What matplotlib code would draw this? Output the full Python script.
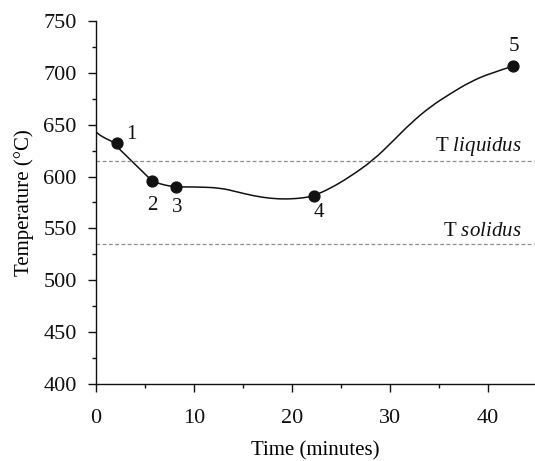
import matplotlib
matplotlib.use('Agg')

import matplotlib.pyplot as plt
from matplotlib.path import Path
from matplotlib.patches import PathPatch
from matplotlib.ticker import MultipleLocator

plt.rcParams['font.family'] = 'Liberation Serif'
plt.rcParams['mathtext.fontset'] = 'custom'
plt.rcParams['mathtext.rm'] = 'Liberation Serif'
plt.rcParams['mathtext.it'] = 'Liberation Serif:italic'

# ===============================
# DATA
# ===============================
# cooling / reheating curve, sampled along the drawn line
curve_time = [0.0, 0.4, 1.0, 2.1, 5.7, 6.8, 8.2, 10.3, 12.7, 14.4, 16.1,
              17.8, 19.5, 21.2, 22.2, 23.9, 25.9, 28.3, 30.4, 32.1, 34.1,
              36.2, 38.2, 40.2, 42.6]
curve_temp = [643, 640, 636.5, 632, 596, 592, 590, 590, 589.1, 585.2,
              581.4, 578.9, 578.2, 579.4, 581.4, 588.5, 599.7, 615.8, 635.1,
              651.3, 667.3, 680.2, 691.4, 699.5, 706.6]

# numbered points
pt_time = [2.1, 5.7, 8.2, 22.2, 42.6]
pt_temp = [632, 596, 590, 581.4, 706.6]
pt_labels = ['1', '2', '3', '4', '5']
label_time = [3.6, 5.7, 8.3, 22.7, 42.6]
label_temp = [641, 572, 570, 565.5, 725]

t_liquidus = 615
t_solidus = 535


# smooth line through the sampled curve (quadratic B-spline path)
def smooth_path(xs, ys):
    pts = list(zip(xs, ys))
    verts = [pts[0]]
    codes = [Path.MOVETO]
    verts.append(pts[1])
    codes.append(Path.LINETO)
    for i in range(1, len(pts) - 2):
        mid = ((pts[i][0] + pts[i + 1][0]) / 2, (pts[i][1] + pts[i + 1][1]) / 2)
        if i == 3:
            # straight run from point 1 to point 2
            verts += [pts[i + 1]]
            codes += [Path.LINETO]
            continue
        verts += [pts[i], mid]
        codes += [Path.CURVE3, Path.CURVE3]
    verts += [pts[-2], pts[-1]]
    codes += [Path.CURVE3, Path.CURVE3]
    return Path(verts, codes)


# ===============================
# PLOT
# ===============================
fig = plt.figure(figsize=(5.35, 4.61), dpi=100)
ax = fig.add_axes([96 / 535, 1 - 384 / 461, (535 - 96) / 535, (384 - 21) / 461])

ax.axhline(t_liquidus, color='#8c8c8c', linestyle=(0, (3, 2)), linewidth=0.9)
ax.axhline(t_solidus, color='#8c8c8c', linestyle=(0, (3, 2)), linewidth=0.9)

ax.add_patch(PathPatch(smooth_path(curve_time, curve_temp), facecolor='none',
                       edgecolor='#111111', linewidth=1.1))
ax.plot(pt_time, pt_temp, 'o', color='#111111', markersize=7.8)

for lx, ly, s in zip(label_time, label_temp, pt_labels):
    ax.text(lx, ly, s, fontsize=15, ha='center', va='center', color='#111111')

ax.text(43.4, t_liquidus + 3, r'T $\mathit{liquidus}$', fontsize=15,
        ha='right', va='bottom', color='#111111')
ax.text(43.4, t_solidus + 3, r'T $\mathit{solidus}$', fontsize=15,
        ha='right', va='bottom', color='#111111')

ax.set_xlim(0, 44.8)
ax.set_ylim(400, 750)
ax.xaxis.set_major_locator(MultipleLocator(10))
ax.xaxis.set_minor_locator(MultipleLocator(5))
ax.yaxis.set_major_locator(MultipleLocator(50))
ax.yaxis.set_minor_locator(MultipleLocator(25))

ax.spines['top'].set_visible(False)
ax.spines['right'].set_visible(False)
for sp in ['left', 'bottom']:
    ax.spines[sp].set_linewidth(1.0)
    ax.spines[sp].set_color('#111111')

ax.tick_params(which='major', direction='out', length=5.8, width=1.0,
               labelsize=16, colors='#111111')
ax.tick_params(which='minor', direction='out', length=3.0, width=1.0,
               colors='#111111')
ax.tick_params(axis='y', pad=8)
ax.tick_params(axis='x', pad=12.5)

ax.set_xlabel('Time (minutes)', fontsize=15, labelpad=9)
ax.set_ylabel('Temperature (°C)', fontsize=15, labelpad=7)

plt.savefig('out.png', dpi=100)
plt.close()
